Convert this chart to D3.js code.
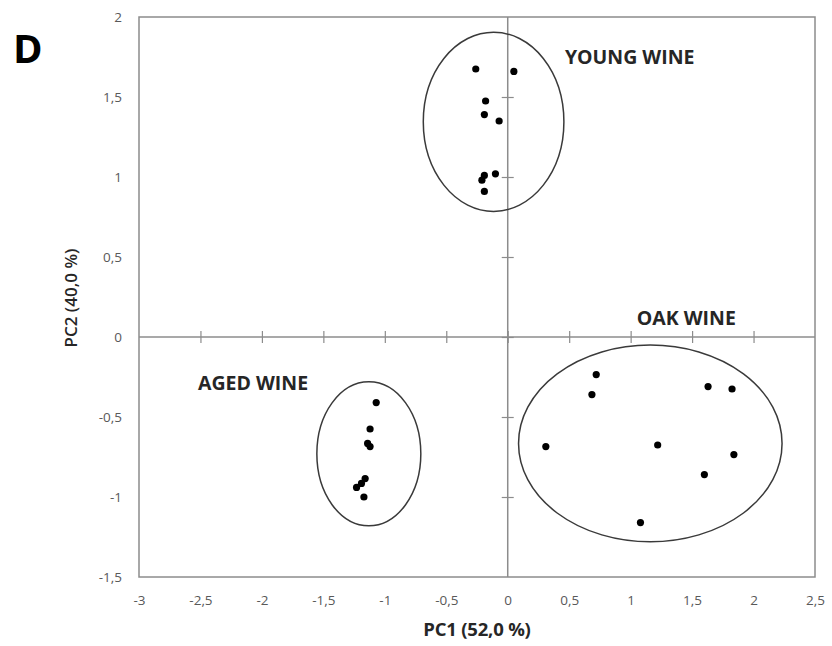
<!DOCTYPE html>
<html>
<head>
<meta charset="utf-8">
<script src="https://cdn.jsdelivr.net/npm/d3@7"></script>
<style>
  body { margin: 0; background: #fff; }
  .tick text { font-family: "Open Sans", sans-serif; fill: #595959; }
</style>
</head>
<body>
<div id="chart"></div>
<script>
// PCA scores
var youngPC1 = [-0.26, 0.05, -0.18, -0.19, -0.07, -0.10, -0.19, -0.21, -0.19];
var youngPC2 = [1.675, 1.66, 1.475, 1.39, 1.35, 1.02, 1.01, 0.98, 0.91];
var agedPC1 = [-1.07, -1.12, -1.14, -1.12, -1.16, -1.19, -1.23, -1.17];
var agedPC2 = [-0.41, -0.575, -0.665, -0.685, -0.885, -0.915, -0.94, -1.0];
var oakPC1 = [0.72, 0.685, 1.63, 1.825, 0.31, 1.22, 1.84, 1.60, 1.08];
var oakPC2 = [-0.235, -0.36, -0.31, -0.325, -0.685, -0.675, -0.735, -0.86, -1.16];

// group ellipses (centre and radii in PC units)
var groupNames = ["YOUNG WINE", "AGED WINE", "OAK WINE"];
var ellipseCX = [-0.115, -1.13, 1.16];
var ellipseCY = [1.345, -0.73, -0.665];
var ellipseRX = [0.572, 0.423, 1.072];
var ellipseRY = [0.56, 0.45, 0.615];
var labelX = [0.465, -2.52, 1.05];
var labelY = [1.75, -0.285, 0.12];

var xTicks = [-3, -2.5, -2, -1.5, -1, -0.5, 0, 0.5, 1, 1.5, 2, 2.5];
var yTicks = [-1.5, -1, -0.5, 0, 0.5, 1, 1.5, 2];

var svgWidth = 832;
var svgHeight = 646;
var margin = { top: 17, right: 17, bottom: 69, left: 139 };
var width = svgWidth - margin.left - margin.right;
var height = svgHeight - margin.top - margin.bottom;

var svg = d3.select("#chart").append("svg")
  .attr("width", svgWidth)
  .attr("height", svgHeight);

var chart = svg.append("g")
  .attr("transform", `translate(${margin.left}, ${margin.top})`);

var x = d3.scaleLinear().domain([-3, 2.5]).range([0, width]);
var y = d3.scaleLinear().domain([-1.5, 2]).range([height, 0]);

var fmt = function(d) { return String(d).replace(".", ","); };
var axisColor = "#8c8c8c";
var font = "'Open Sans', sans-serif";

// tick labels outside the box
var xLab = chart.append("g")
  .attr("transform", `translate(0, ${height})`)
  .call(d3.axisBottom(x).tickValues(xTicks).tickFormat(fmt).tickSize(0).tickPadding(18));
xLab.select(".domain").remove();
xLab.selectAll("text").style("font-size", "13.5px");

var yLab = chart.append("g")
  .call(d3.axisLeft(y).tickValues(yTicks).tickFormat(fmt).tickSize(0).tickPadding(17));
yLab.select(".domain").remove();
yLab.selectAll("text").style("font-size", "13.5px");

// plot box
chart.append("rect")
  .attr("width", width)
  .attr("height", height)
  .attr("fill", "none")
  .attr("stroke", axisColor)
  .attr("stroke-width", 1.5);

// axes crossing at zero with cross ticks
var xCross = chart.append("g")
  .attr("transform", `translate(0, ${y(0) - 6})`)
  .call(d3.axisBottom(x).tickValues(xTicks.slice(1, -1)).tickFormat("").tickSize(12).tickSizeOuter(0));
xCross.select(".domain").remove();
xCross.selectAll("line").attr("stroke", axisColor).attr("stroke-width", 1.2);
chart.append("line")
  .attr("x1", 0).attr("x2", width)
  .attr("y1", y(0)).attr("y2", y(0))
  .attr("stroke", axisColor).attr("stroke-width", 1.5);

var yCross = chart.append("g")
  .attr("transform", `translate(${x(0) + 6}, 0)`)
  .call(d3.axisLeft(y).tickValues(yTicks.slice(1, -1)).tickFormat("").tickSize(12).tickSizeOuter(0));
yCross.select(".domain").remove();
yCross.selectAll("line").attr("stroke", axisColor).attr("stroke-width", 1.2);
chart.append("line")
  .attr("x1", x(0)).attr("x2", x(0))
  .attr("y1", 0).attr("y2", height)
  .attr("stroke", axisColor).attr("stroke-width", 1.5);

// ellipses
chart.append("g").selectAll("ellipse")
  .data(groupNames)
  .enter()
  .append("ellipse")
  .attr("cx", function(d, i) { return x(ellipseCX[i]); })
  .attr("cy", function(d, i) { return y(ellipseCY[i]); })
  .attr("rx", function(d, i) { return x(ellipseRX[i]) - x(0); })
  .attr("ry", function(d, i) { return y(0) - y(ellipseRY[i]); })
  .attr("fill", "none")
  .attr("stroke", "#3a3a3a")
  .attr("stroke-width", 1.5);

// points
var points = [];
youngPC1.forEach(function(v, i) { points.push([v, youngPC2[i]]); });
agedPC1.forEach(function(v, i) { points.push([v, agedPC2[i]]); });
oakPC1.forEach(function(v, i) { points.push([v, oakPC2[i]]); });

chart.append("g").selectAll("circle")
  .data(points)
  .enter()
  .append("circle")
  .attr("cx", function(d) { return x(d[0]); })
  .attr("cy", function(d) { return y(d[1]); })
  .attr("r", 3.6)
  .attr("fill", "#000");

// group labels
chart.append("g").selectAll("text")
  .data(groupNames)
  .enter()
  .append("text")
  .attr("x", function(d, i) { return x(labelX[i]); })
  .attr("y", function(d, i) { return y(labelY[i]); })
  .attr("dy", "0.36em")
  .style("font-family", font)
  .style("font-size", "19.5px")
  .style("font-weight", "bold")
  .attr("fill", "#262626")
  .text(function(d) { return d; });

// axis titles
svg.append("text")
  .attr("x", 477)
  .attr("y", 636)
  .attr("text-anchor", "middle")
  .style("font-family", font)
  .style("font-size", "18.5px")
  .style("font-weight", "bold")
  .style("letter-spacing", "-0.2px")
  .attr("fill", "#262626")
  .text("PC1 (52,0 %)");

svg.append("text")
  .attr("transform", "translate(77, 298) rotate(-90)")
  .attr("text-anchor", "middle")
  .style("font-family", font)
  .style("font-size", "17px")
  .style("font-weight", "600")
  .attr("fill", "#262626")
  .text("PC2 (40,0 %)");

// panel letter
svg.append("text")
  .attr("x", 13)
  .attr("y", 63)
  .style("font-family", font)
  .style("font-size", "40px")
  .style("font-weight", "bold")
  .attr("fill", "#000")
  .text("D");
</script>
</body>
</html>
